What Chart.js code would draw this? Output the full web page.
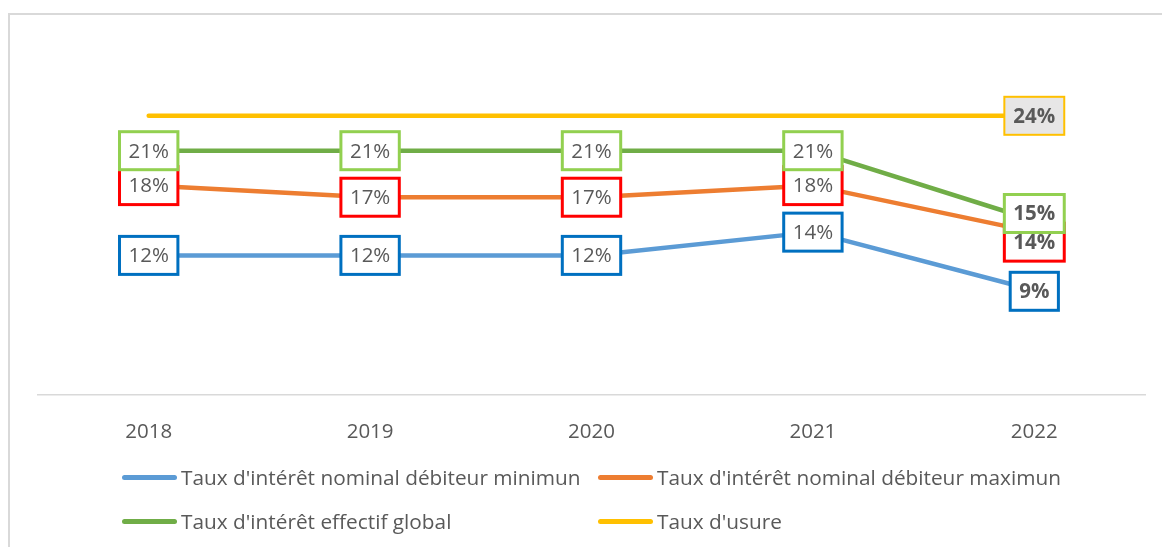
<!DOCTYPE html>
<html lang="fr">
<head>
<meta charset="UTF-8">
<title>Taux d'intérêt</title>
<script src="https://cdn.jsdelivr.net/npm/chart.js"></script>
<style>
  body { margin: 0; background: #fff; }
  #wrap { position: relative; width: 1162px; height: 547px; overflow: hidden; font-family: "Open Sans", sans-serif; }
  #frame { position: absolute; left: 8px; top: 13px; width: 1300px; height: 700px; border: 2px solid #D9D9D9; }
  canvas { position: absolute; left: 0; top: 0; }
  .lg { position: absolute; display: flex; align-items: center; color: #595959; font-size: 20.8px; white-space: nowrap; }
  .lg span.sw { display: inline-block; width: 55px; height: 5px; border-radius: 3px; margin-right: 4px; }
</style>
</head>
<body>
<div id="wrap">
  <div id="frame"></div>
  <canvas id="chart" width="1162" height="547"></canvas>
  <div id="legend"></div>
</div>
<script>
// données
const years = ['2018', '2019', '2020', '2021', '2022'];
const tauxMin = [12, 12, 12, 14, 9];
const tauxMax = [18, 17, 17, 18, 14];
const tauxTEG = [21, 21, 21, 21, 15];
const tauxUsure = [24, 24, 24, 24, 24];
const seriesNames = [
  "Taux d'intérêt nominal débiteur minimun",
  "Taux d'intérêt nominal débiteur maximun",
  "Taux d'intérêt effectif global",
  "Taux d'usure"
];
const lineColors = ['#5B9BD5', '#ED7D31', '#70AD47', '#FFC000'];

// style des étiquettes (cadres)
const labelStyles = [
  { border: '#0070C0', fill: '#fff', lw: 3, only: null, dy: [0, 0, 0, 0, 1] },
  { border: '#FF0000', fill: '#fff', lw: 3, only: null, dy: [0, 0, 0, 0, 10] },
  { border: '#92D050', fill: '#fff', lw: 3, only: null, dy: [0, 0, 0, 0, -7] },
  { border: '#FFC000', fill: '#E7E6E6', lw: 2, only: 4, dy: [0, 0, 0, 0, 0] }
];

const boxLabels = {
  id: 'boxLabels',
  afterDatasetsDraw(chart) {
    const ctx = chart.ctx;
    chart.data.datasets.forEach((ds, i) => {
      const st = labelStyles[i];
      const meta = chart.getDatasetMeta(i);
      meta.data.forEach((pt, j) => {
        if (st.only !== null && st.only !== j) return;
        const bold = j === ds.data.length - 1;
        const txt = ds.data[j] + '%';
        ctx.save();
        ctx.font = (bold ? 'bold ' : '') + '20.5px "Open Sans"';
        const w = ctx.measureText(txt).width + 18;
        const h = 38;
        const cx = pt.x, cy = pt.y + st.dy[j];
        ctx.fillStyle = st.fill;
        ctx.fillRect(cx - w / 2, cy - h / 2, w, h);
        ctx.lineWidth = st.lw;
        ctx.strokeStyle = st.border;
        ctx.strokeRect(cx - w / 2, cy - h / 2, w, h);
        ctx.fillStyle = '#595959';
        ctx.textAlign = 'center';
        ctx.textBaseline = 'middle';
        ctx.fillText(txt, cx, cy + 1);
        ctx.restore();
      });
    });
  }
};

const allData = [tauxMin, tauxMax, tauxTEG, tauxUsure];

new Chart(document.getElementById('chart'), {
  type: 'line',
  data: {
    labels: years,
    datasets: allData.map((d, i) => ({
      label: seriesNames[i],
      data: d,
      borderColor: lineColors[i],
      backgroundColor: lineColors[i],
      borderWidth: 4.5,
      borderCapStyle: 'round',
      borderJoinStyle: 'round',
      pointRadius: 0,
      tension: 0,
      order: 4 - i
    }))
  },
  options: {
    responsive: false,
    animation: false,
    layout: { padding: { left: 38, right: 17, top: 46, bottom: 0 } },
    plugins: { legend: { display: false }, tooltip: { enabled: false } },
    scales: {
      x: {
        offset: true,
        grid: { display: false },
        border: { display: true, color: '#D9D9D9', width: 1.5 },
        ticks: { color: '#595959', font: { family: 'Open Sans', size: 20.5 }, padding: 17 },
        afterFit(axis) { axis.height = 152; }
      },
      y: { display: false, min: 0, max: 30 }
    }
  },
  plugins: [boxLabels]
});

// légende
const legendPos = [[122, 477], [598, 477], [122, 521], [598, 521]];
const lg = document.getElementById('legend');
seriesNames.forEach((n, i) => {
  const el = document.createElement('div');
  el.className = 'lg';
  el.style.left = legendPos[i][0] + 'px';
  el.style.top = (legendPos[i][1] - 14) + 'px';
  el.innerHTML = '<span class="sw" style="background:' + lineColors[i] + '"></span>';
  el.appendChild(document.createTextNode(n));
  lg.appendChild(el);
});
</script>
</body>
</html>
